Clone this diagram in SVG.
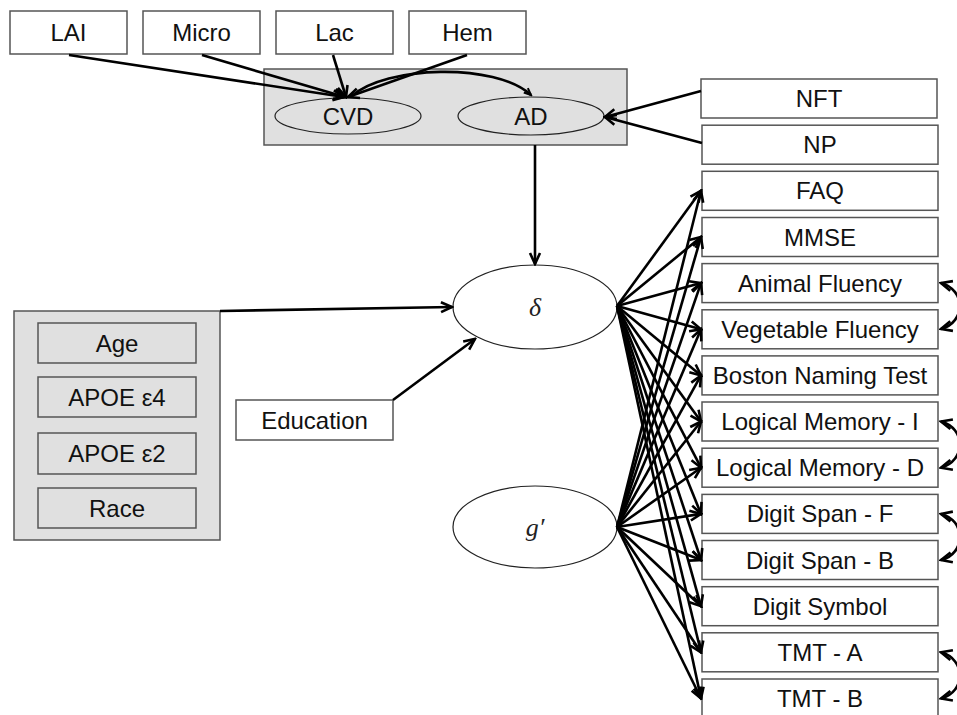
<svg xmlns="http://www.w3.org/2000/svg" width="957" height="715" viewBox="0 0 957 715">
<style>
.box{fill:#fff;stroke:#555;stroke-width:1.5}
.gbox{fill:#e0e0e0;stroke:#555;stroke-width:1.5}
.ell{fill:none;stroke:#222;stroke-width:1.2}
.t{font-family:"Liberation Sans",Arial,sans-serif;font-size:24px;fill:#111;text-anchor:middle}
.m{font-family:"Liberation Serif","Times New Roman",serif;font-size:26px;font-style:italic;fill:#222;text-anchor:middle}
.c{fill:none;stroke:#000;stroke-width:2.6}
</style>
<defs>
<marker id="a" markerUnits="userSpaceOnUse" markerWidth="14" markerHeight="14" refX="12" refY="6" orient="auto-start-reverse" viewBox="0 0 14 12">
<path d="M1,1 L12,6 L1,11" fill="none" stroke="#000" stroke-width="2.6"/>
</marker>
<marker id="s" markerUnits="userSpaceOnUse" markerWidth="10" markerHeight="10" refX="8" refY="4" orient="auto" viewBox="0 0 10 8">
<path d="M1,1 L8,4 L1,7" fill="none" stroke="#000" stroke-width="2"/>
</marker>
</defs>

<g id="pathology">
<rect class="gbox" x="264" y="69" width="363" height="76"/>
</g>
<g id="CVD"><ellipse class="ell" cx="348" cy="116" rx="73" ry="18"/><text class="t" x="348" y="124.5">CVD</text></g>
<g id="AD"><ellipse class="ell" cx="531" cy="116" rx="73" ry="19"/><text class="t" x="531" y="124.5">AD</text></g>

<g id="LAI"><rect class="box" x="10" y="11" width="117" height="43"/><text class="t" x="68.5" y="41">LAI</text></g>
<g id="Micro"><rect class="box" x="143" y="11" width="117" height="43"/><text class="t" x="201.5" y="41">Micro</text></g>
<g id="Lac"><rect class="box" x="276" y="11" width="117" height="43"/><text class="t" x="334.5" y="41">Lac</text></g>
<g id="Hem"><rect class="box" x="409" y="11" width="117" height="43"/><text class="t" x="467.5" y="41">Hem</text></g>

<g id="NFT"><rect class="box" x="701" y="79" width="236" height="39"/><text class="t" x="819" y="107">NFT</text></g>
<g id="NP"><rect class="box" x="702" y="125.2" width="236" height="39"/><text class="t" x="820" y="153.2">NP</text></g>
<g id="FAQ"><rect class="box" x="702" y="171.3" width="236" height="39"/><text class="t" x="820" y="199.3">FAQ</text></g>
<g id="MMSE"><rect class="box" x="702" y="217.5" width="236" height="39"/><text class="t" x="820" y="245.5">MMSE</text></g>
<g id="AnimalFluency"><rect class="box" x="702" y="263.6" width="236" height="39"/><text class="t" x="820" y="291.6">Animal Fluency</text></g>
<g id="VegetableFluency"><rect class="box" x="702" y="309.8" width="236" height="39"/><text class="t" x="820" y="337.8">Vegetable Fluency</text></g>
<g id="BostonNamingTest"><rect class="box" x="702" y="355.9" width="236" height="39"/><text class="t" x="820" y="383.9">Boston Naming Test</text></g>
<g id="LogicalMemoryI"><rect class="box" x="702" y="402" width="236" height="39"/><text class="t" x="820" y="430">Logical Memory - I</text></g>
<g id="LogicalMemoryD"><rect class="box" x="702" y="448.2" width="236" height="39"/><text class="t" x="820" y="476.2">Logical Memory - D</text></g>
<g id="DigitSpanF"><rect class="box" x="702" y="494.4" width="236" height="39"/><text class="t" x="820" y="522.4">Digit Span - F</text></g>
<g id="DigitSpanB"><rect class="box" x="702" y="540.5" width="236" height="39"/><text class="t" x="820" y="568.5">Digit Span - B</text></g>
<g id="DigitSymbol"><rect class="box" x="702" y="586.7" width="236" height="39"/><text class="t" x="820" y="614.7">Digit Symbol</text></g>
<g id="TMTA"><rect class="box" x="702" y="632.8" width="236" height="39"/><text class="t" x="820" y="660.8">TMT - A</text></g>
<g id="TMTB"><rect class="box" x="702" y="679" width="236" height="39"/><text class="t" x="820" y="707">TMT - B</text></g>

<g id="covariates">
<rect class="gbox" x="14" y="311" width="206" height="229"/>
</g>
<g id="Age"><rect class="gbox" x="38" y="323" width="158" height="40"/><text class="t" x="117" y="351.5">Age</text></g>
<g id="APOE4"><rect class="gbox" x="38" y="377" width="158" height="40"/><text class="t" x="117" y="405.5">APOE ε4</text></g>
<g id="APOE2"><rect class="gbox" x="38" y="433" width="158" height="41"/><text class="t" x="117" y="462">APOE ε2</text></g>
<g id="Race"><rect class="gbox" x="38" y="488" width="158" height="40"/><text class="t" x="117" y="516.5">Race</text></g>

<g id="Education"><rect class="box" x="236" y="400" width="157" height="40"/><text class="t" x="314.5" y="428.5">Education</text></g>

<g id="delta"><ellipse class="ell" cx="535" cy="307" rx="82" ry="42"/><text class="m" x="535" y="316">δ</text></g>
<g id="gprime"><ellipse class="ell" cx="535" cy="527" rx="82" ry="41"/><text class="m" x="535" y="536">g′</text></g>

<g id="connectors">
<line class="c" x1="69" y1="55" x2="344" y2="97" marker-end="url(#a)"/>
<line class="c" x1="202" y1="55" x2="345" y2="97" marker-end="url(#a)"/>
<line class="c" x1="333" y1="55" x2="346" y2="97" marker-end="url(#a)"/>
<line class="c" x1="467" y1="55" x2="348" y2="97" marker-end="url(#a)"/>
<path class="c" d="M352,96 C385,66 495,62 531,95" marker-end="url(#s)"/>
<line class="c" x1="701" y1="91" x2="605" y2="117" marker-end="url(#a)"/>
<line class="c" x1="702" y1="143" x2="605" y2="117" marker-end="url(#a)"/>
<line class="c" x1="535" y1="145" x2="535" y2="264" marker-end="url(#a)"/>
<line class="c" x1="220" y1="311" x2="452" y2="307" marker-end="url(#a)"/>
<line class="c" x1="393" y1="400" x2="475" y2="339" marker-end="url(#a)"/>

<line class="c" x1="617" y1="306" x2="701" y2="190.8" marker-end="url(#a)"/>
<line class="c" x1="617" y1="306" x2="701" y2="237" marker-end="url(#a)"/>
<line class="c" x1="617" y1="306" x2="701" y2="283.1" marker-end="url(#a)"/>
<line class="c" x1="617" y1="306" x2="701" y2="329.3" marker-end="url(#a)"/>
<line class="c" x1="617" y1="306" x2="701" y2="375.4" marker-end="url(#a)"/>
<line class="c" x1="617" y1="306" x2="701" y2="421.5" marker-end="url(#a)"/>
<line class="c" x1="617" y1="306" x2="701" y2="467.7" marker-end="url(#a)"/>
<line class="c" x1="617" y1="306" x2="701" y2="513.9" marker-end="url(#a)"/>
<line class="c" x1="617" y1="306" x2="701" y2="560" marker-end="url(#a)"/>
<line class="c" x1="617" y1="306" x2="701" y2="606.2" marker-end="url(#a)"/>
<line class="c" x1="617" y1="306" x2="701" y2="652.3" marker-end="url(#a)"/>
<line class="c" x1="617" y1="306" x2="701" y2="698.5" marker-end="url(#a)"/>

<line class="c" x1="617" y1="527" x2="701" y2="190.8" marker-end="url(#a)"/>
<line class="c" x1="617" y1="527" x2="701" y2="237" marker-end="url(#a)"/>
<line class="c" x1="617" y1="527" x2="701" y2="283.1" marker-end="url(#a)"/>
<line class="c" x1="617" y1="527" x2="701" y2="329.3" marker-end="url(#a)"/>
<line class="c" x1="617" y1="527" x2="701" y2="375.4" marker-end="url(#a)"/>
<line class="c" x1="617" y1="527" x2="701" y2="421.5" marker-end="url(#a)"/>
<line class="c" x1="617" y1="527" x2="701" y2="467.7" marker-end="url(#a)"/>
<line class="c" x1="617" y1="527" x2="701" y2="513.9" marker-end="url(#a)"/>
<line class="c" x1="617" y1="527" x2="701" y2="560" marker-end="url(#a)"/>
<line class="c" x1="617" y1="527" x2="701" y2="606.2" marker-end="url(#a)"/>
<line class="c" x1="617" y1="527" x2="701" y2="652.3" marker-end="url(#a)"/>
<line class="c" x1="617" y1="527" x2="701" y2="698.5" marker-end="url(#a)"/>

<path class="c" d="M941,283 C966,290 966,322 941,329" marker-start="url(#a)" marker-end="url(#a)"/>
<path class="c" d="M941,421.5 C966,428 966,461 941,467.7" marker-start="url(#a)" marker-end="url(#a)"/>
<path class="c" d="M941,513.9 C966,520 966,554 941,560" marker-start="url(#a)" marker-end="url(#a)"/>
<path class="c" d="M941,652.3 C966,659 966,692 941,698.5" marker-start="url(#a)" marker-end="url(#a)"/>
</g>
</svg>
